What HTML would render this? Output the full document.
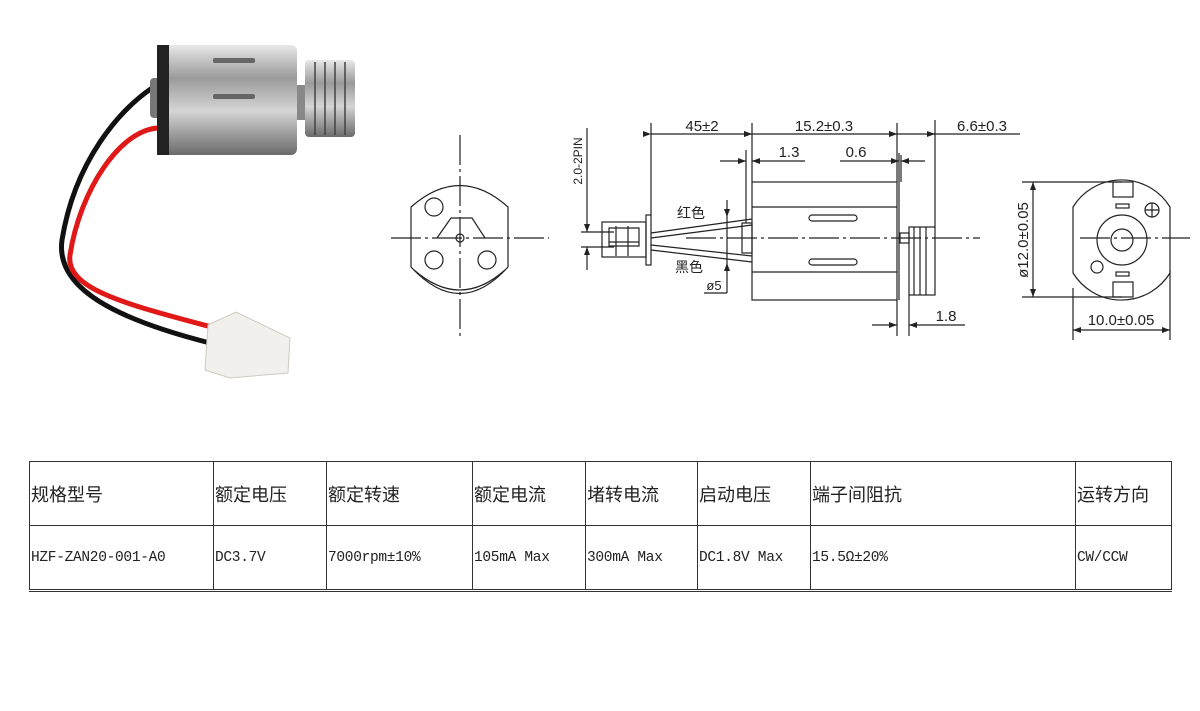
<!DOCTYPE html>
<html><head><meta charset="utf-8"><style>
html,body{margin:0;padding:0;background:#fff;}
body{width:1200px;height:711px;position:relative;overflow:hidden;}
svg{position:absolute;left:0;top:0;}
.t{font-family:"Liberation Sans","DejaVu Sans",sans-serif;fill:#222;}
.c{font-family:"Liberation Sans","Noto Sans CJK SC",sans-serif;fill:#222;}
table{position:absolute;left:29px;top:461px;border-collapse:collapse;width:1142px;table-layout:fixed;}
td{border:1.5px solid #333;padding:0 0 0 1px;height:63px;vertical-align:middle;white-space:nowrap;overflow:hidden;}
tr.h td{font-family:"Noto Sans CJK SC","WenQuanYi Zen Hei",sans-serif;font-size:18px;color:#222;}
tr.d td{font-family:"Liberation Mono","Noto Sans CJK SC",monospace;font-size:14.5px;color:#222;letter-spacing:-0.3px;}
tr.d td{border-bottom:3px double #333;}
</style></head><body>
<svg width="1200" height="711" viewBox="0 0 1200 711">
<defs>
<marker id="a" markerWidth="8" markerHeight="6" refX="8" refY="3" orient="auto" markerUnits="userSpaceOnUse"><path d="M0,0 L8,3 L0,6z" fill="#222"/></marker>
<linearGradient id="m" x1="0" y1="0" x2="0" y2="1"><stop offset="0" stop-color="#e8e8e8"/><stop offset="0.3" stop-color="#9a9a9a"/><stop offset="0.6" stop-color="#d5d5d5"/><stop offset="1" stop-color="#6a6a6a"/></linearGradient>
</defs>
<g>
<path d="M152,88 C120,110 75,160 62,240 C55,290 120,320 210,343" stroke="#111" stroke-width="5" fill="none"/>
<path d="M158,128 C120,130 80,190 70,255 C65,290 130,305 215,328" stroke="#e01818" stroke-width="5" fill="none"/>
<rect x="150" y="78" width="12" height="40" rx="4" fill="#777"/>
<rect x="157" y="45" width="140" height="110" rx="6" fill="url(#m)"/>
<rect x="157" y="45" width="12" height="110" fill="#222"/>
<rect x="213" y="58" width="42" height="5" rx="2" fill="#666"/>
<rect x="213" y="94" width="42" height="5" rx="2" fill="#666"/>
<rect x="297" y="85" width="10" height="35" fill="#888"/>
<rect x="305" y="60" width="50" height="77" rx="4" fill="url(#m)"/>
<path d="M315,62v73M325,62v73M335,62v73M345,62v73" stroke="#444" stroke-width="1.5"/>
<path d="M208,325 L236,312 L290,338 L288,373 L230,378 L205,370z" fill="#f2f0ec" stroke="#cfcac2"/>
</g>
<g stroke="#222" stroke-width="1.2" fill="none">
<path d="M460,135V340" stroke-dasharray="30,4,3,4"/>
<path d="M391,238H549" stroke-dasharray="30,4,3,4"/>
<path d="M411,238V207 Q460,164 508,207 V238"/>
<path d="M411,238V267 Q460,320 508,267 V238"/>
<path d="M414,270 Q460,310 505,270"/>
<circle cx="434" cy="207" r="9"/><circle cx="434" cy="260" r="9"/><circle cx="487" cy="260" r="9"/>
<path d="M437,238 L451,218 H472 L485,238"/>
<circle cx="460" cy="238" r="4"/>
<path d="M686,238H980" stroke-dasharray="30,4,3,4"/>
<rect x="602" y="222" width="44" height="35"/>
<rect x="646" y="215" width="5" height="50"/>
<path d="M609,228h30v18h-30zM609,242h30M616,226v30M628,226v30"/>
<path d="M651,233 L752,219 M651,238 L752,225 M651,245 L752,256 M651,250 L752,262"/>
<rect x="742" y="223" width="10" height="30"/>
<rect x="752" y="182" width="145" height="118"/>
<path d="M752,207H897M752,272H897"/>
<rect x="809" y="215" width="48" height="6" rx="3"/>
<rect x="809" y="259" width="48" height="6" rx="3"/>
<path d="M899,153V300"/>
<rect x="900" y="233" width="9" height="10"/>
<rect x="909" y="227" width="26" height="68"/>
<path d="M914,227v68M920,227v68M926,227v68"/>
<path d="M651,123V215M752,123V182M897,123V182M935,120V227"/>
<path d="M651,134H752" marker-start="url(#a)" marker-end="url(#a)"/>
<path d="M752,134H897" marker-start="url(#a)" marker-end="url(#a)"/>
<path d="M897,134H935" marker-start="url(#a)" marker-end="url(#a)"/>
<path d="M935,134H1020"/>
<path d="M746,150V223"/>
<path d="M720,161H746" marker-end="url(#a)"/>
<path d="M805,161H752" marker-end="url(#a)"/>
<path d="M840,161H899" marker-end="url(#a)"/>
<path d="M925,161H901" marker-end="url(#a)"/>
<path d="M901,155V182"/>
<path d="M897,300V336M909,295V336"/>
<path d="M872,325H897" marker-end="url(#a)"/>
<path d="M965,325H909" marker-end="url(#a)"/>
<path d="M727,200V217" marker-end="url(#a)"/>
<path d="M727,293V263" marker-end="url(#a)"/>
<path d="M727,217V263"/>
<path d="M704,293H727"/>
<path d="M587,128V232" marker-end="url(#a)"/>
<path d="M587,270V247" marker-end="url(#a)"/>
<path d="M581,232H614M581,247H614"/>
<path d="M1073,207 A57,57 0 0 1 1170,207 V273 A57,57 0 0 1 1073,273 Z"/>
<path d="M1080,238H1190" stroke-dasharray="30,4,3,4"/>
<circle cx="1122" cy="240" r="25"/><circle cx="1122" cy="240" r="11"/>
<circle cx="1097" cy="267" r="6"/>
<circle cx="1152" cy="210" r="7"/><path d="M1145,210h14M1152,203v14"/>
<rect x="1113" y="182" width="20" height="15"/><rect x="1113" y="282" width="20" height="15"/>
<rect x="1116" y="204" width="13" height="4"/><rect x="1116" y="272" width="13" height="4"/>
<path d="M1022,182H1122M1022,297H1122"/>
<path d="M1033,238V182" marker-end="url(#a)"/>
<path d="M1033,238V297" marker-end="url(#a)"/>
<path d="M1073,288V340M1170,270V340"/>
<path d="M1121,330H1073" marker-end="url(#a)"/>
<path d="M1121,330H1170" marker-end="url(#a)"/>
</g>
<text class="t" x="702" y="131" font-size="15" text-anchor="middle">45±2</text>
<text class="t" x="824" y="131" font-size="15" text-anchor="middle">15.2±0.3</text>
<text class="t" x="982" y="131" font-size="15" text-anchor="middle">6.6±0.3</text>
<text class="t" x="789" y="157" font-size="15" text-anchor="middle">1.3</text>
<text class="t" x="856" y="157" font-size="15" text-anchor="middle">0.6</text>
<text class="t" x="946" y="321" font-size="15" text-anchor="middle">1.8</text>
<text class="t" x="714" y="290" font-size="13" text-anchor="middle">ø5</text>
<text class="c" x="677" y="218" font-size="14">红色</text>
<text class="c" x="675" y="272" font-size="14">黑色</text>
<text class="t" font-size="12" transform="translate(582,161) rotate(-90)" text-anchor="middle">2.0-2PIN</text>
<text class="t" font-size="15" transform="translate(1028,240) rotate(-90)" text-anchor="middle">ø12.0±0.05</text>
<text class="t" x="1121" y="325" font-size="15" text-anchor="middle">10.0±0.05</text>
</svg>
<table>
<colgroup><col style="width:184px"><col style="width:113px"><col style="width:146px"><col style="width:113px"><col style="width:112px"><col style="width:113px"><col style="width:265px"><col style="width:96px"></colgroup>
<tr class="h"><td>规格型号</td><td>额定电压</td><td>额定转速</td><td>额定电流</td><td>堵转电流</td><td>启动电压</td><td>端子间阻抗</td><td>运转方向</td></tr>
<tr class="d"><td>HZF-ZAN20-001-A0</td><td>DC3.7V</td><td>7000rpm±10%</td><td>105mA Max</td><td>300mA Max</td><td>DC1.8V Max</td><td>15.5Ω±20%</td><td>CW/CCW</td></tr>
</table>
</body></html>
